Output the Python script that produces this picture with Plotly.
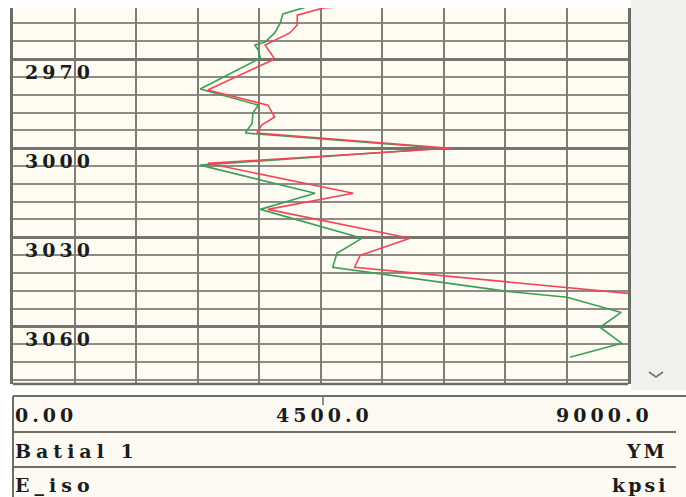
import plotly.graph_objects as go

# Young's modulus log, Batial 1 (kpsi vs depth)
depth_iso = [2951.1, 2952.9, 2954.8, 2957.9, 2961.2, 2964.3, 2965.3, 2967.0, 2969.7,
             2980.1, 2985.5, 2988.2, 2991.6, 2994.9, 3000.0, 3005.7, 3015.2, 3020.6,
             3030.3, 3035.4, 3040.1, 3048.2, 3050.2, 3055.3, 3060.3, 3065.7, 3070.4]
ym_iso = [4490, 4240, 3950, 3910, 3830, 3690, 3540, 3590, 3620,
          2740, 3590, 3510, 3500, 3400, 6290, 2740, 4420, 3620,
          5110, 4740, 4680, 7230, 8110, 8900, 8590, 8910, 8150]

depth_ym = [2952.4, 2952.8, 2955.2, 2958.5, 2961.2, 2965.3, 2967.6, 2970.0,
            2980.4, 2985.5, 2989.5, 2992.2, 2994.9, 3000.0, 3005.1, 3015.2,
            3020.6, 3030.3, 3036.1, 3040.1, 3048.9]
ym_ym = [4790, 4540, 4160, 4160, 4050, 3690, 3760, 3830,
         2850, 3730, 3830, 3640, 3570, 6400, 2850, 4980,
         3730, 5810, 5080, 5000, 9000]

depth_labels = [2970, 3000, 3030, 3060]
scale_labels = ["0.00", "4500.0", "9000.0"]
well_name = "Batial 1"
curve_name = "E_iso"
curve_mnemonic = "YM"
curve_unit = "kpsi"

W, H = 686, 497
X_LEFT, X_RIGHT = 13, 628
Y_TOP, Y_BOT = 8, 384


def px(x):
    return x / W


def py(y):
    return 1 - y / H


FONT = dict(family="DejaVu Serif", size=19, color="#1c1c1c", weight="bold")


def spaced(t, ls=4):
    return f'<span style="letter-spacing:{ls}px">{t}</span>'


fig = go.Figure()
fig.add_trace(go.Scatter(x=ym_iso, y=depth_iso, mode="lines",
                         line=dict(color="#3f9d55", width=1.6), name="E_iso"))
fig.add_trace(go.Scatter(x=ym_ym, y=depth_ym, mode="lines",
                         line=dict(color="#f04658", width=1.6), name="YM"))

shapes = []
# right-hand scroll strip
shapes.append(dict(type="rect", xref="paper", yref="paper", x0=px(631), x1=1,
                   y0=py(390), y1=1, fillcolor="#f0f0ee", line_width=0, layer="below"))
# chevron
shapes.append(dict(type="path", xref="paper", yref="paper",
                   path=f"M {px(649)} {py(372)} L {px(656)} {py(377)} L {px(663)} {py(372)}",
                   line=dict(color="#707070", width=1.6)))
# header panel
shapes.append(dict(type="rect", xref="paper", yref="paper", x0=px(X_LEFT), x1=1,
                   y0=0, y1=py(396), fillcolor="#fcfaf3", line_width=0, layer="below"))
shapes.append(dict(type="line", xref="paper", yref="paper", x0=px(X_LEFT), x1=1,
                   y0=py(396), y1=py(396), line=dict(color="#6e6c66", width=2)))
for yy in (432, 467):
    shapes.append(dict(type="line", xref="paper", yref="paper", x0=px(X_LEFT), x1=px(676),
                       y0=py(yy), y1=py(yy), line=dict(color="#6e6c66", width=2)))
shapes.append(dict(type="line", xref="paper", yref="paper", x0=px(X_LEFT), x1=px(X_LEFT),
                   y0=0, y1=py(396), line=dict(color="#6e6c66", width=2)))
shapes.append(dict(type="line", xref="paper", yref="paper", x0=px(323), x1=px(323),
                   y0=py(396), y1=py(405), line=dict(color="#6e6c66", width=1.5)))
# track bottom border
shapes.append(dict(type="line", xref="paper", yref="paper", x0=px(X_LEFT), x1=px(X_RIGHT),
                   y0=py(Y_BOT), y1=py(Y_BOT), line=dict(color="#6e6c66", width=2.5)))

annotations = []
for d in depth_labels:
    annotations.append(dict(text=spaced(str(d)), xref="paper", yref="y", x=px(23), y=d,
                            xanchor="left", yanchor="middle", yshift=-13,
                            showarrow=False, font=FONT))
annotations.append(dict(text=spaced(scale_labels[0]), xref="paper", yref="paper", x=px(13), y=py(415),
                        xanchor="left", yanchor="middle", showarrow=False, font=FONT))
annotations.append(dict(text=spaced(scale_labels[1]), xref="paper", yref="paper", x=px(324), y=py(415),
                        xanchor="center", yanchor="middle", showarrow=False, font=FONT))
annotations.append(dict(text=spaced(scale_labels[2]), xref="paper", yref="paper", x=px(655), y=py(415),
                        xanchor="right", yanchor="middle", showarrow=False, font=FONT))
annotations.append(dict(text=spaced(well_name, 5), xref="paper", yref="paper", x=px(13), y=py(451),
                        xanchor="left", yanchor="middle", showarrow=False, font=FONT))
annotations.append(dict(text=spaced(curve_mnemonic, 3), xref="paper", yref="paper", x=px(670), y=py(451),
                        xanchor="right", yanchor="middle", showarrow=False, font=FONT))
annotations.append(dict(text=spaced(curve_name, 5), xref="paper", yref="paper", x=px(13), y=py(485),
                        xanchor="left", yanchor="middle", showarrow=False, font=FONT))
annotations.append(dict(text=spaced(curve_unit, 3), xref="paper", yref="paper", x=px(670), y=py(485),
                        xanchor="right", yanchor="middle", showarrow=False, font=FONT))

fig.update_layout(
    width=W, height=H,
    margin=dict(l=0, r=0, t=0, b=0),
    paper_bgcolor="#ffffff",
    plot_bgcolor="#fdfbf2",
    showlegend=False,
    shapes=shapes,
    annotations=annotations,
    xaxis=dict(range=[0, 9000], domain=[px(X_LEFT), px(X_RIGHT)], dtick=900, tick0=0,
               showgrid=True, gridcolor="#7f7d74", gridwidth=2.2, zeroline=False,
               showticklabels=False, ticks="", showline=False, fixedrange=True),
    yaxis=dict(range=[3079.4, 2952.8],
               domain=[py(Y_BOT), py(Y_TOP)], dtick=30, tick0=0,
               showgrid=True, gridcolor="#76746c", gridwidth=2.6, zeroline=False,
               showticklabels=False, ticks="", showline=True, linecolor="#6e6c66",
               linewidth=2.5, mirror=True,
               minor=dict(dtick=6, tick0=0, showgrid=True, gridcolor="#8e8c84", gridwidth=1.6),
               fixedrange=True),
)

fig.write_html("out.html")
